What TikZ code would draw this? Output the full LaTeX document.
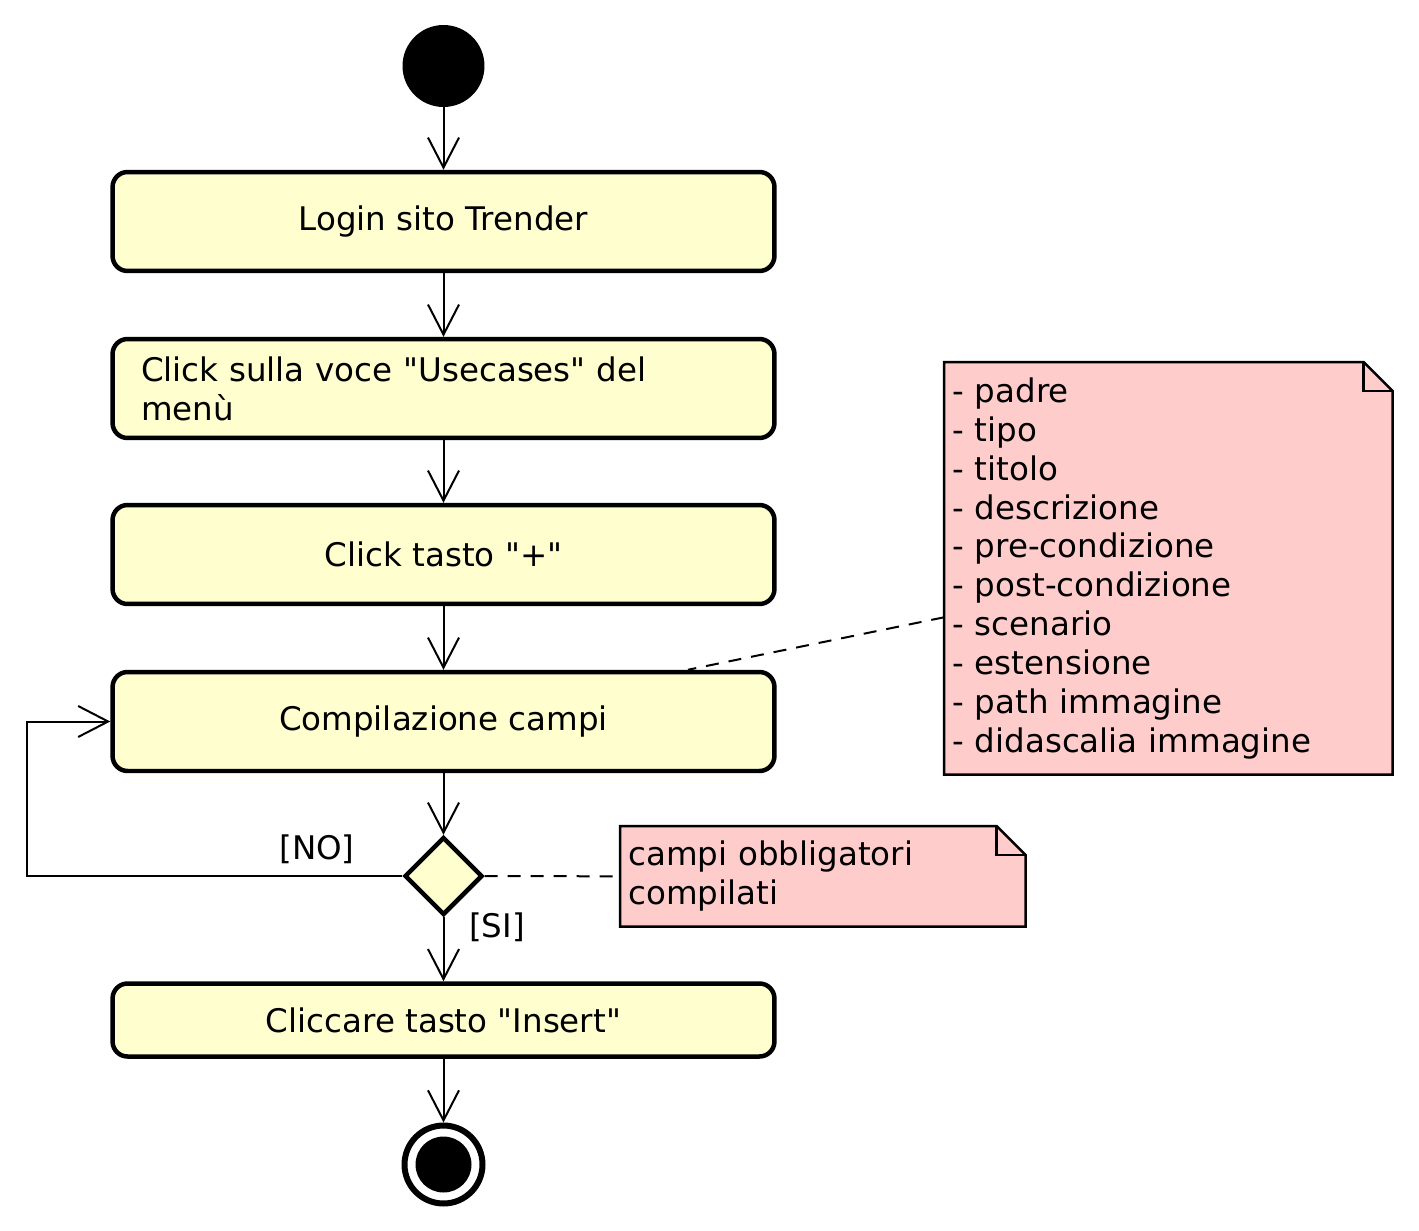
\documentclass[tikz,border=0pt]{standalone}
\usepackage{fontspec}
\setmainfont{DejaVu Sans}
\usetikzlibrary{arrows.meta,shapes.geometric,backgrounds}
\definecolor{actfill}{HTML}{FEFECE}
\definecolor{notefill}{HTML}{FFCCCC}
\newcommand{\umlfont}{\fontsize{18.5}{22.1}\selectfont}
\newcommand{\q}{\textquotedbl}
\tikzset{
    action/.style={rectangle,draw,rounded corners=0.3cm,line width=0.09cm,fill=actfill,minimum width=13.24cm,minimum height=1.98cm,font=\umlfont},
    decision/.style={diamond,draw,line width=0.09cm,fill=actfill,minimum width=1.56cm,minimum height=1.56cm,inner sep=0pt},
    initial/.style={circle,fill=black,minimum size=1.64cm,inner sep=0pt},
    final/.style={circle,draw,line width=0.12cm,minimum size=1.56cm,inner sep=0pt,
        path picture={\fill (path picture bounding box.center) circle (0.56cm);}},
    flow/.style={-{Straight Barb[length=0.6cm,width=0.62cm]},line width=0.04cm},
    link/.style={line width=0.04cm,dash pattern=on 0.26cm off 0.2cm},
    note/.style={rectangle,inner sep=0.16cm,align=left,anchor=north west,font=\umlfont},
    notebody/.style={draw,fill=notefill,line width=0.05cm},
    guard/.style={font=\umlfont},
}

\begin{document}
\begin{tikzpicture}[x=0.02cm,y=-0.02cm]
    \useasboundingbox (0,0) rectangle (1419,1230);
    \node[initial] (init) at (443.5,66) {};
    \node[action] (login) at (443.5,221.5) {Login sito Trender};
    \node[action,text width=12.1cm,align=left] (menu) at (443.5,388.5) {Click sulla voce \q Usecases\q{} del\\men\`u};
    \node[action] (plus) at (443.5,554.5) {Click tasto \q+\q};
    \node[action] (comp) at (443.5,721.5) {Compilazione campi};
    \node[decision] (dec) at (443.5,876) {};
    \node[action,minimum height=1.46cm] (insert) at (443.5,1020) {Cliccare tasto \q Insert\q};
    \node[final] (end) at (443.5,1164.5) {};
    \node[note,minimum width=8.96cm,minimum height=8.24cm,text width=8.64cm] (fields) at (944,362)
        {- padre\\- tipo\\- titolo\\- descrizione\\- pre-condizione\\- post-condizione\\- scenario\\- estensione\\- path immagine\\- didascalia immagine};
    \node[note,minimum width=8.1cm,minimum height=2cm,text width=7.78cm] (check) at (620,826)
        {campi obbligatori\\compilati};
    \node[guard] (no) at (317,849) {[NO]};
    \node[guard] (si) at (497,927) {[SI]};
    \coordinate (back) at (27,876);

    \begin{scope}[on background layer]
    \foreach \n in {fields,check} {
        \draw[notebody] (\n.south west) -- (\n.north west) -- ([xshift=-0.58cm]\n.north east)
            -- ([yshift=-0.58cm]\n.north east) -- (\n.south east) -- cycle;
        \draw[notebody,fill=none] ([xshift=-0.58cm]\n.north east) |- ([yshift=-0.58cm]\n.north east);
    }
    \end{scope}

    \draw[flow] (init) -- (login);
    \draw[flow] (login) -- (menu);
    \draw[flow] (menu) -- (plus);
    \draw[flow] (plus) -- (comp);
    \draw[flow] (comp) -- (dec);
    \draw[flow] (dec) -- (insert);
    \draw[flow] (insert) -- (end);
    \draw[flow] (dec.west) -- (back) |- (comp.west);
    \draw[link] ([yshift=-0.98cm]fields.west) -- ([xshift=4.89cm]comp.north);
    \draw[link] (dec.east) -- (check.west);
\end{tikzpicture}
\end{document}
